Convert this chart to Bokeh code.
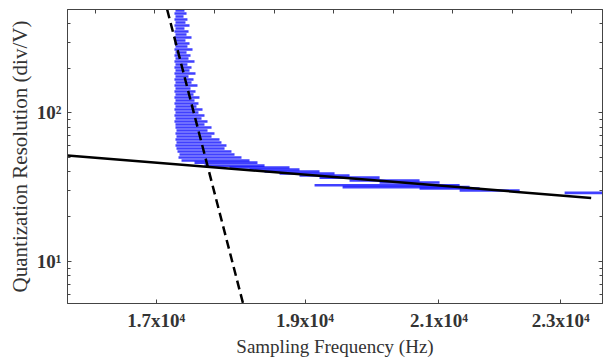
from bokeh.plotting import figure
from bokeh.models import (Range1d, FixedTicker, LogAxis, LinearAxis, LinearScale)
from bokeh.embed import file_html
from bokeh.resources import INLINE

# ---------------- data ----------------
# measured points: quantization resolution with horizontal (frequency) spread
blue_y = [489.0, 466.8, 445.6, 425.3, 406.0, 387.5, 369.9, 353.1, 337.0, 321.7,
          307.0, 293.1, 279.7, 267.0, 254.9, 243.3, 232.2, 221.7, 211.6, 202.0,
          192.8, 184.0, 175.6, 167.6, 160.0, 152.7, 145.8, 139.2, 132.8, 126.8,
          121.0, 115.5, 110.3, 105.3, 100.5, 95.9, 91.5, 87.4, 83.4, 79.6,
          76.0, 72.5, 69.2, 66.1, 63.1, 60.2, 57.5, 54.9, 52.4, 50.0,
          47.7, 46.2, 44.1, 42.8, 41.5, 40.2, 39.0, 37.8, 36.6, 35.0,
          33.9, 32.5, 31.6, 30.9, 30.0, 28.9]
blue_lo = [17247, 17234, 17247, 17234, 17247, 17234, 17247, 17234, 17247, 17234,
           17247, 17234, 17247, 17234, 17247, 17234, 17247, 17234, 17247, 17234,
           17247, 17234, 17247, 17234, 17247, 17234, 17247, 17234, 17247, 17234,
           17247, 17234, 17247, 17234, 17247, 17234, 17247, 17234, 17247, 17247,
           17260, 17247, 17260, 17247, 17260, 17247, 17260, 17273, 17299, 17286,
           17325, 17494, 17625, 17958, 18228, 18434, 18642, 18922, 19207, 19643,
           20089, 19136, 19541, 20698, 21327, 23068]
blue_hi = [17363, 17390, 17351, 17402, 17376, 17429, 17363, 17416, 17390, 17455,
           17376, 17429, 17402, 17468, 17390, 17442, 17416, 17494, 17402, 17455,
           17429, 17507, 17416, 17481, 17455, 17533, 17442, 17507, 17481, 17559,
           17494, 17546, 17520, 17599, 17546, 17625, 17586, 17665, 17625, 17718,
           17665, 17757, 17718, 17824, 17850, 17917, 17891, 17984, 18025, 18119,
           18228, 18337, 18434, 18781, 18922, 19207, 19424, 19643, 20089, 20698,
           21010, 21327, 21487, 21648, 22305, 23858]

# fitted lines
fit_x = [15910, 23530]
fit_y = [51.6, 26.7]
dash_x = [17140, 18140]
dash_y = [497.0, 5.2]

x_ticks = [17000, 19000, 21000, 23000]
x_labels = ["1.7x10\u2074", "1.9x10\u2074", "2.1x10\u2074", "2.3x10\u2074"]
y_ticks = [10, 100]
y_labels = ["10\u00b9", "10\u00b2"]
y_minor = [6, 7, 8, 9, 20, 30, 40, 50, 60, 70, 80, 90, 200, 300, 400]
top_ticks = [0, 1, 2, 3, 4, 5, 6, 7, 8]

FONT = "Liberation Serif"
AX = "#444444"

p = figure(width=603, height=359, x_axis_type="log", y_axis_type="log",
           x_range=Range1d(15910, 23730), y_range=Range1d(5.19, 497),
           output_backend="svg", toolbar_location=None,
           min_border_left=67, min_border_right=1, min_border_top=9,
           min_border_bottom=40)
p.background_fill_color = "white"
p.border_fill_color = "white"
p.outline_line_color = AX
p.xgrid.visible = False
p.ygrid.visible = False

# data
p.segment(x0=blue_lo, y0=blue_y, x1=blue_hi, y1=blue_y,
          line_color="#1010ff", line_width=2.6, line_alpha=0.8)
p.line(fit_x, fit_y, line_color="black", line_width=2.5)
p.line(dash_x, dash_y, line_color="black", line_width=2.5, line_dash="9 5")

# bottom axis
xa = p.xaxis[0]
xa.ticker = FixedTicker(ticks=x_ticks, minor_ticks=[])
xa.major_label_overrides = {t: l for t, l in zip(x_ticks, x_labels)}
xa.axis_label = "Sampling Frequency (Hz)"

# left axis
ya = p.yaxis[0]
ya.ticker = FixedTicker(ticks=y_ticks, minor_ticks=y_minor)
ya.major_label_overrides = {t: l for t, l in zip(y_ticks, y_labels)}
ya.axis_label = "Quantization Resolution (div/V)"

for ax in (xa, ya):
    ax.axis_line_color = AX
    ax.major_tick_line_color = AX
    ax.minor_tick_line_color = AX
    ax.major_tick_in = 4
    ax.major_tick_out = 0
    ax.minor_tick_in = 3
    ax.minor_tick_out = 0
    ax.major_label_text_font = FONT
    ax.major_label_text_font_style = "bold"
    ax.major_label_text_font_size = "19px"
    ax.major_label_text_color = "#333333"
    ax.axis_label_text_font = FONT
    ax.axis_label_text_font_style = "normal"
    ax.axis_label_text_color = "#333333"
xa.axis_label_text_font_size = "19px"
ya.axis_label_text_font_size = "21px"
xa.major_label_standoff = 6
xa.axis_label_standoff = 2
ya.major_label_standoff = 6
ya.axis_label_standoff = 2

# right mirror axis (ticks only)
ra = LogAxis(ticker=FixedTicker(ticks=y_ticks, minor_ticks=y_minor),
             major_label_overrides={10: "", 100: ""},
             major_label_text_font_size="1px", major_label_text_color=None,
             major_label_standoff=0,
             major_tick_in=4, major_tick_out=0, minor_tick_in=3, minor_tick_out=0,
             axis_line_color=AX, major_tick_line_color=AX, minor_tick_line_color=AX)
p.add_layout(ra, "right")

# top mirror axis (ticks only)
p.extra_x_ranges = {"top": Range1d(-0.47, 8.52)}
p.extra_x_scales = {"top": LinearScale()}
ta = LinearAxis(x_range_name="top", ticker=FixedTicker(ticks=top_ticks, minor_ticks=[]),
                major_label_overrides={t: "" for t in top_ticks},
                major_label_text_font_size="1px", major_label_text_color=None,
                major_label_standoff=0,
                major_tick_in=4, major_tick_out=0, minor_tick_in=0, minor_tick_out=0,
                axis_line_color=AX, major_tick_line_color=AX)
p.add_layout(ta, "above")

open("out.html", "w").write(file_html(p, INLINE))
